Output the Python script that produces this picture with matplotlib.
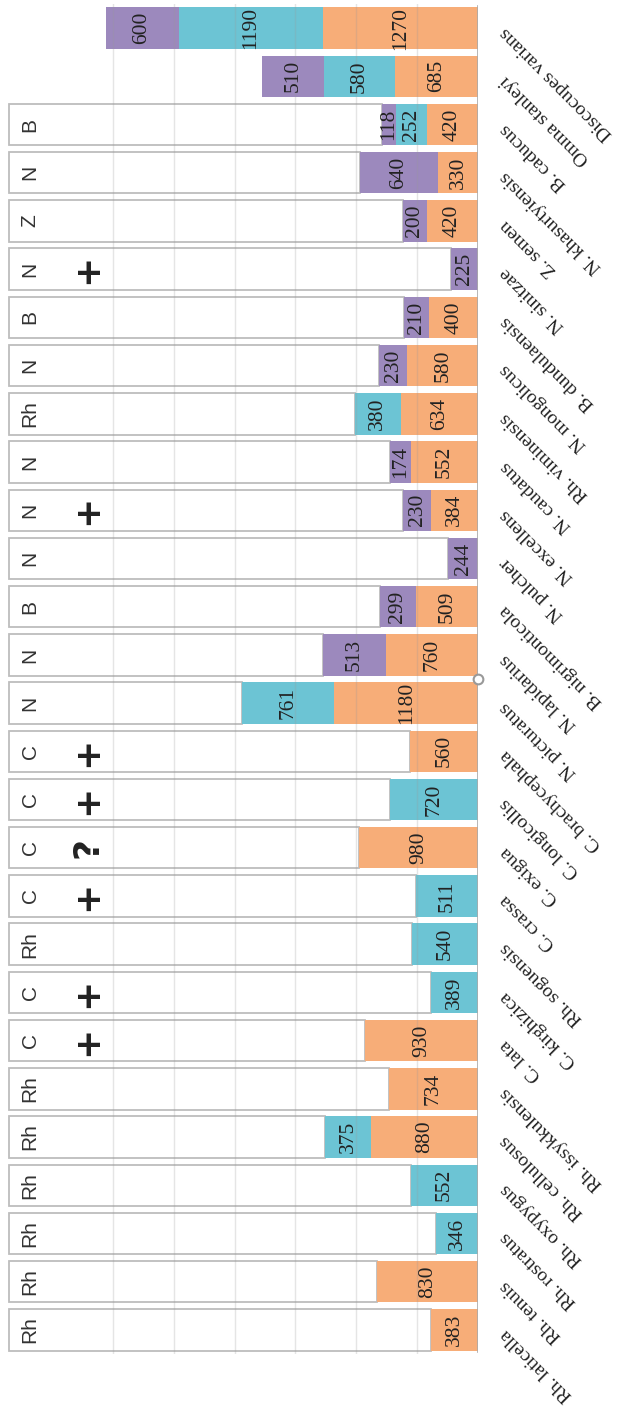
import numpy as np
import matplotlib
matplotlib.use("Agg")
import matplotlib.pyplot as plt

species = ["Discocupes varians", "Omma stanleyi", "B. caducus", "N. khasurtyiensis",
           "Z. semen", "N. sinitzae", "B. dundulaensis", "N. mongolicus",
           "Rh. viminensis", "N. caudatus", "N. excellens", "N. pulcher",
           "B. nigrimonticola", "N. lapidarius", "N. picturatus", "C. brachycephala",
           "C. longicollis", "C. exigua", "C. crassa", "Rh. soguensis",
           "C. kirghizica", "C. lata", "Rh. issykkulensis", "Rh. cellulosus",
           "Rh. oxypygus", "Rh. rostratus", "Rh. tenuis", "Rh. laticella"]

orange = [1270, 685, 420, 330, 420, 0, 400, 580, 634, 552, 384, 0, 509, 760,
          1180, 560, 0, 980, 0, 0, 0, 930, 734, 880, 0, 0, 830, 383]
cyan = [1190, 580, 252, 0, 0, 0, 0, 0, 380, 0, 0, 0, 0, 0,
        761, 0, 720, 0, 511, 540, 389, 0, 0, 375, 552, 346, 0, 0]
purple = [600, 510, 118, 640, 200, 225, 210, 230, 0, 174, 230, 244, 299, 513,
          0, 0, 0, 0, 0, 0, 0, 0, 0, 0, 0, 0, 0, 0]

genus = ["", "", "B", "N", "Z", "N", "B", "N", "Rh", "N", "N", "N", "B", "N",
         "N", "C", "C", "C", "C", "Rh", "C", "C", "Rh", "Rh", "Rh", "Rh", "Rh", "Rh"]
marks = ["", "", "", "", "", "+", "", "", "", "", "+", "", "", "",
         "", "+", "+", "?", "+", "", "+", "+", "", "", "", "", "", ""]

box_total = 3850
col_orange = "#f7ad78"
col_cyan = "#6cc4d4"
col_purple = "#9c89bd"

fig = plt.figure(figsize=(6.23, 14.16), dpi=100)
ax = fig.add_axes([7 / 623, 1 - 1354 / 1416, 471 / 623, 1350 / 1416])

y = np.arange(len(species))
o = np.array(orange)
c = np.array(cyan)
p = np.array(purple)
h = 0.86

ax.barh(y, o, height=h, color=col_orange, zorder=2)
ax.barh(y, c, left=o, height=h, color=col_cyan, zorder=2)
ax.barh(y, p, left=o + c, height=h, color=col_purple, zorder=2)

tot = o + c + p
for i in range(len(species)):
    if genus[i]:
        ax.barh(i, box_total - tot[i], left=tot[i], height=h, color="white",
                edgecolor="#bdbdbd", linewidth=1.3, zorder=1)
        ax.text(3680, i, genus[i], rotation=90, ha="center", va="center",
                family="Liberation Sans", fontsize=15, color="#333333", zorder=4)
    if marks[i]:
        ax.text(3210, i, marks[i], rotation=90, ha="center", va="center",
                family="DejaVu Sans", fontsize=26, fontweight="bold",
                color="#222222", zorder=4)
    # numbers inside the segments
    start = 0
    for vals in (o, c, p):
        v = vals[i]
        if v > 0:
            ax.text(start + v / 2, i, str(v), rotation=90, ha="center", va="center",
                    family="Liberation Serif", fontsize=15.5, color="#222222", zorder=4)
        start += v

for g in range(500, 3001, 500):
    ax.axvline(g, color="#999999", alpha=0.25, linewidth=1, zorder=3)

ax.plot([0, 0], [-0.45, len(species) - 0.55], color="#aaaaaa", linewidth=1.2, zorder=3)
ax.plot(0, 13.5, "o", markersize=7, markerfacecolor="white",
        markeredgecolor="#999999", markeredgewidth=1.5, zorder=5, clip_on=False)

ax.set_xlim(3870, 0)
ax.set_ylim(len(species) - 0.5, -0.5)
for s in ax.spines.values():
    s.set_visible(False)
ax.set_xticks([])
ax.set_yticks(y)
ax.set_yticklabels([])
ax.tick_params(length=0)

for i, name in enumerate(species):
    ax.annotate(name, xy=(0, i), xycoords="data", xytext=(18, -1),
                textcoords="offset points", rotation=135, rotation_mode="anchor",
                ha="right", va="center", family="Liberation Serif", fontsize=14,
                color="#222222", annotation_clip=False)

fig.savefig("out.png", dpi=100)
